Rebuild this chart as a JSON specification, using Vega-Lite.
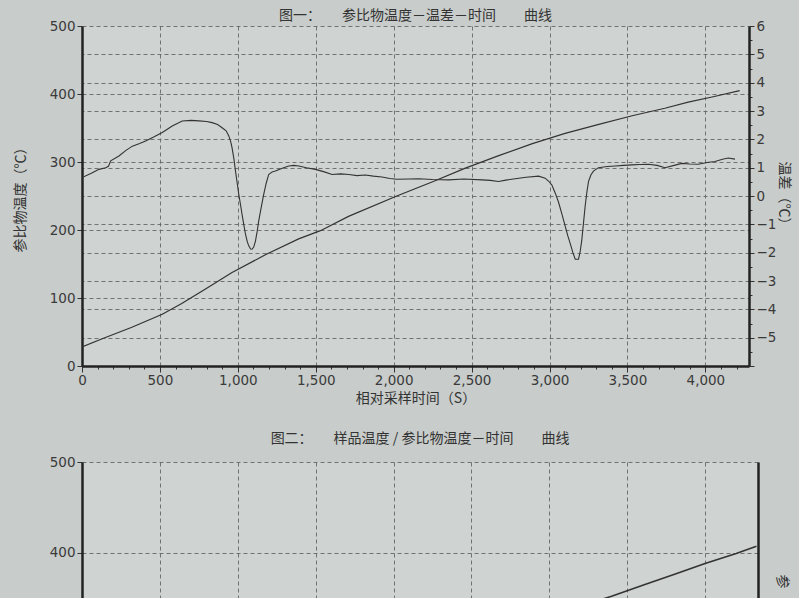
{
  "$schema": "https://vega.github.io/schema/vega-lite/v6.json",
  "background": "#c8ccca",
  "padding": {"left": 13, "top": 9, "right": 8, "bottom": 0},
  "config": {
    "view": {"stroke": null, "fill": "#cfd3d1"},
    "font": "Noto Sans CJK SC",
    "concat": {"spacing": 26},
    "title": {"font": "Noto Sans CJK SC", "fontSize": 14, "fontWeight": "normal", "color": "#333333", "anchor": "middle"},
    "axis": {
      "domainColor": "#222222",
      "domainWidth": 2.5,
      "tickColor": "#333333",
      "gridColor": "#666666",
      "gridDash": [4, 3],
      "gridWidth": 0.9,
      "labelFont": "DejaVu Sans",
      "labelFontSize": 13.5,
      "labelColor": "#3a3a3a",
      "labelOverlap": false,
      "labelFlush": false,
      "titleFont": "Noto Sans CJK SC",
      "titleFontSize": 14,
      "titleFontWeight": "normal",
      "titleColor": "#333333"
    }
  },
  "datasets": {
    "ref": [
      {"t": 0, "v": 28}, {"t": 130, "v": 40}, {"t": 320, "v": 57}, {"t": 515, "v": 76},
      {"t": 640, "v": 92}, {"t": 790, "v": 113}, {"t": 960, "v": 137}, {"t": 1180, "v": 164},
      {"t": 1390, "v": 187}, {"t": 1530, "v": 199}, {"t": 1710, "v": 220}, {"t": 2020, "v": 250},
      {"t": 2250, "v": 271}, {"t": 2460, "v": 291}, {"t": 2670, "v": 309}, {"t": 2890, "v": 327},
      {"t": 3100, "v": 342}, {"t": 3310, "v": 355}, {"t": 3530, "v": 368}, {"t": 3740, "v": 379},
      {"t": 3890, "v": 388}, {"t": 4050, "v": 396}, {"t": 4220, "v": 405}
    ],
    "diff": [
      {"t": 0, "d": 0.65}, {"t": 60, "d": 0.8}, {"t": 109, "d": 0.94}, {"t": 152, "d": 1.0},
      {"t": 170, "d": 1.05}, {"t": 184, "d": 1.24}, {"t": 237, "d": 1.41}, {"t": 280, "d": 1.6},
      {"t": 323, "d": 1.76}, {"t": 370, "d": 1.85}, {"t": 408, "d": 1.94}, {"t": 460, "d": 2.08},
      {"t": 515, "d": 2.24}, {"t": 579, "d": 2.47}, {"t": 643, "d": 2.65}, {"t": 700, "d": 2.67},
      {"t": 750, "d": 2.65}, {"t": 800, "d": 2.63}, {"t": 835, "d": 2.59}, {"t": 870, "d": 2.52},
      {"t": 899, "d": 2.41}, {"t": 925, "d": 2.3}, {"t": 942, "d": 2.12}, {"t": 955, "d": 1.9},
      {"t": 963, "d": 1.7}, {"t": 975, "d": 1.3}, {"t": 985, "d": 0.88}, {"t": 996, "d": 0.45},
      {"t": 1006, "d": 0.06}, {"t": 1017, "d": -0.3}, {"t": 1027, "d": -0.65}, {"t": 1038, "d": -1.0},
      {"t": 1049, "d": -1.35}, {"t": 1060, "d": -1.6}, {"t": 1070, "d": -1.76}, {"t": 1082, "d": -1.87},
      {"t": 1091, "d": -1.88}, {"t": 1102, "d": -1.8}, {"t": 1113, "d": -1.59}, {"t": 1124, "d": -1.25},
      {"t": 1134, "d": -0.88}, {"t": 1150, "d": -0.4}, {"t": 1166, "d": 0.06}, {"t": 1182, "d": 0.45},
      {"t": 1198, "d": 0.76}, {"t": 1220, "d": 0.85}, {"t": 1241, "d": 0.88}, {"t": 1285, "d": 0.98},
      {"t": 1327, "d": 1.06}, {"t": 1360, "d": 1.08}, {"t": 1391, "d": 1.06}, {"t": 1440, "d": 1.0},
      {"t": 1498, "d": 0.94}, {"t": 1550, "d": 0.86}, {"t": 1605, "d": 0.76}, {"t": 1660, "d": 0.78},
      {"t": 1712, "d": 0.76}, {"t": 1765, "d": 0.72}, {"t": 1818, "d": 0.74}, {"t": 1870, "d": 0.7},
      {"t": 1925, "d": 0.67}, {"t": 1975, "d": 0.62}, {"t": 2021, "d": 0.59}, {"t": 2100, "d": 0.6},
      {"t": 2160, "d": 0.61}, {"t": 2250, "d": 0.58}, {"t": 2353, "d": 0.57}, {"t": 2450, "d": 0.6},
      {"t": 2567, "d": 0.57}, {"t": 2620, "d": 0.55}, {"t": 2673, "d": 0.51}, {"t": 2720, "d": 0.56},
      {"t": 2780, "d": 0.61}, {"t": 2850, "d": 0.66}, {"t": 2930, "d": 0.7}, {"t": 2972, "d": 0.63},
      {"t": 2995, "d": 0.52}, {"t": 3015, "d": 0.39}, {"t": 3037, "d": 0.1}, {"t": 3058, "d": -0.22},
      {"t": 3080, "d": -0.65}, {"t": 3101, "d": -1.07}, {"t": 3117, "d": -1.4}, {"t": 3133, "d": -1.68},
      {"t": 3150, "d": -2.0}, {"t": 3165, "d": -2.23}, {"t": 3186, "d": -2.23}, {"t": 3197, "d": -1.95},
      {"t": 3207, "d": -1.56}, {"t": 3218, "d": -0.95}, {"t": 3229, "d": -0.34}, {"t": 3240, "d": 0.15},
      {"t": 3250, "d": 0.51}, {"t": 3266, "d": 0.75}, {"t": 3282, "d": 0.88}, {"t": 3314, "d": 1.0},
      {"t": 3370, "d": 1.04}, {"t": 3421, "d": 1.06}, {"t": 3475, "d": 1.08}, {"t": 3528, "d": 1.1},
      {"t": 3580, "d": 1.11}, {"t": 3635, "d": 1.12}, {"t": 3690, "d": 1.08}, {"t": 3741, "d": 1.0},
      {"t": 3800, "d": 1.08}, {"t": 3848, "d": 1.15}, {"t": 3900, "d": 1.13}, {"t": 3955, "d": 1.12},
      {"t": 4010, "d": 1.18}, {"t": 4062, "d": 1.22}, {"t": 4110, "d": 1.3}, {"t": 4147, "d": 1.34},
      {"t": 4190, "d": 1.3}
    ],
    "sample": [
      {"t": 2800, "s": 317}, {"t": 3000, "s": 329}, {"t": 3200, "s": 341}, {"t": 3400, "s": 352},
      {"t": 3600, "s": 364}, {"t": 3800, "s": 376}, {"t": 4000, "s": 388}, {"t": 4200, "s": 399},
      {"t": 4330, "s": 407}
    ]
  },
  "vconcat": [
    {
      "title": {"text": "图一：　　参比物温度－温差－时间　　曲线", "offset": -4},
      "width": 667,
      "height": 340,
      "encoding": {
        "x": {
          "field": "t", "type": "quantitative",
          "scale": {"domain": [0, 4280], "nice": false, "zero": false},
          "axis": {
            "title": "相对采样时间（S）",
            "titlePadding": 5,
            "labelOverlap": false,
            "labelPadding": 1,
            "values": [0,100,200,300,400,500,600,700,800,900,1000,1100,1200,1300,1400,1500,1600,1700,1800,1900,2000,2100,2200,2300,2400,2500,2600,2700,2800,2900,3000,3100,3200,3300,3400,3500,3600,3700,3800,3900,4000,4100,4200],
            "labelExpr": "datum.value % 500 === 0 ? format(datum.value, ',d') : ''",
            "tickSize": {"condition": {"test": "datum.value % 500 === 0", "value": 6}, "value": 3},
            "gridOpacity": {"condition": {"test": "datum.value % 500 === 0 && datum.value > 0", "value": 1}, "value": 0},
            "grid": true
          }
        }
      },
      "layer": [
        {
          "data": {"name": "ref"},
          "mark": {"type": "line", "stroke": "#333333", "strokeWidth": 1.2, "clip": true},
          "encoding": {
            "y": {
              "field": "v", "type": "quantitative",
              "scale": {"domain": [0, 500], "nice": false},
              "axis": {"title": "参比物温度（℃）", "titlePadding": 22, "values": [0, 100, 200, 300, 400, 500], "grid": true, "tickSize": 5}
            }
          }
        },
        {
          "data": {"name": "diff"},
          "mark": {"type": "line", "stroke": "#333333", "strokeWidth": 1.1, "clip": true},
          "encoding": {
            "y": {
              "field": "d", "type": "quantitative",
              "scale": {"domain": [-6, 6], "nice": false},
              "axis": {
                "orient": "right",
                "title": "温差（℃）",
                "titlePadding": 1,
                "labelOverlap": false,
                "values": [-6,-5.5,-5,-4.5,-4,-3.5,-3,-2.5,-2,-1.5,-1,-0.5,0,0.5,1,1.5,2,2.5,3,3.5,4,4.5,5,5.5,6],
                "labelExpr": "(datum.value % 1 === 0 && datum.value > -6) ? format(datum.value, 'd') : ''",
                "tickSize": {"condition": {"test": "datum.value % 1 === 0", "value": 5}, "value": 3},
                "gridOpacity": {"condition": {"test": "datum.value % 1 === 0 && datum.value > -6 && datum.value < 6", "value": 1}, "value": 0},
                "grid": true
              }
            }
          }
        }
      ],
      "resolve": {"scale": {"y": "independent"}}
    },
    {
      "title": {"text": "图二：　　样品温度 / 参比物温度－时间　　曲线", "offset": 9},
      "width": 676,
      "height": 136,
      "data": {"name": "sample"},
      "layer": [
        {
          "mark": {"type": "line", "stroke": "#333333", "strokeWidth": 1.6, "clip": true},
          "encoding": {
            "x": {
              "field": "t", "type": "quantitative",
              "scale": {"domain": [0, 4340], "nice": false, "zero": false},
              "axis": {"title": null, "labels": false, "ticks": false, "domain": false, "grid": true, "values": [500, 1000, 1500, 2000, 2500, 3000, 3500, 4000]}
            },
            "y": {
              "field": "s", "type": "quantitative",
              "scale": {"domain": [350, 500], "nice": false, "zero": false},
              "axis": {"title": null, "values": [400, 500], "grid": true, "tickSize": 5}
            }
          }
        },
        {
          "mark": {"type": "line", "opacity": 0, "clip": true},
          "encoding": {
            "x": {"field": "t", "type": "quantitative"},
            "y": {
              "field": "s", "type": "quantitative",
              "axis": {"orient": "right", "title": "参", "labels": false, "ticks": false, "grid": false, "titlePadding": 16, "titleY": 112, "titleAlign": "left"}
            }
          }
        }
      ],
      "resolve": {"axis": {"y": "independent"}}
    }
  ]
}
